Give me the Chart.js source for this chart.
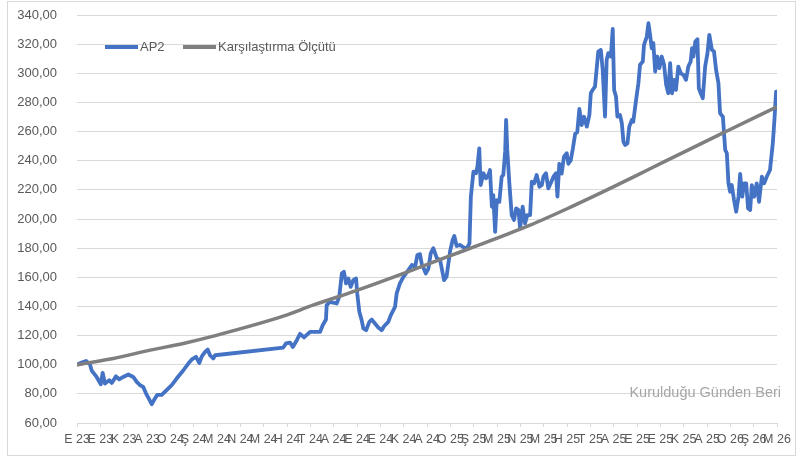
<!DOCTYPE html>
<html>
<head>
<meta charset="utf-8">
<script src="https://cdn.jsdelivr.net/npm/chart.js@4/dist/chart.umd.min.js"></script>
<style>
  body { margin: 0; background: #fff; }
  canvas { display: block; }
</style>
</head>
<body>
<canvas id="grafik" width="803" height="458"></canvas>
<script>
// eksen etiketleri (ay başları)
const monthLabels = ['E 23','E 23','K 23','A 23','O 24','Ş 24','M 24','N 24','M 24','H 24','T 24','A 24',
  'E 24','E 24','K 24','A 24','O 25','Ş 25','M 25','N 25','M 25','H 25','T 25','A 25',
  'E 25','E 25','K 25','A 25','O 26','Ş 26','M 26'];

// AP2 - zaman (ay, başlangıçtan itibaren) ve değer
const apMonths = [0.00,0.20,0.39,0.56,0.63,0.84,1.02,1.10,1.20,1.38,1.49,1.67,1.81,1.98,2.20,2.41,2.56,2.70,2.84,2.96,
  3.10,3.20,3.34,3.44,3.63,3.84,4.06,4.27,4.56,4.77,4.92,5.10,5.24,5.35,5.49,5.60,5.70,5.84,5.92,
  8.84,8.96,9.13,9.25,9.42,9.56,9.73,9.99,10.27,10.42,10.53,10.67,10.70,10.84,11.13,11.24,11.35,11.44,11.53,11.63,11.73,11.84,11.96,
  12.01,12.10,12.20,12.27,12.39,12.53,12.63,12.77,12.91,13.06,13.16,13.34,13.45,13.63,13.70,13.84,13.99,
  14.20,14.35,14.49,14.59,14.70,14.77,14.95,15.06,15.16,15.27,15.42,15.56,15.73,15.84,15.99,
  16.10,16.17,16.27,16.42,16.56,16.71,16.82,16.88,16.99,17.10,17.16,17.24,17.30,17.42,17.53,17.63,17.70,17.78,17.84,17.92,17.99,
  18.10,18.20,18.27,18.35,18.39,18.44,18.53,18.63,18.73,18.82,18.92,18.99,19.10,19.20,19.30,19.42,19.49,19.59,19.70,19.82,19.92,19.99,
  20.10,20.20,20.30,20.42,20.53,20.59,20.67,20.77,20.87,20.99,21.06,21.16,21.25,21.35,21.44,21.53,21.63,21.73,21.85,21.96,
  22.02,22.10,22.20,22.28,22.34,22.45,22.53,22.63,22.70,22.77,22.88,22.96,23.02,23.10,23.16,23.27,23.35,23.42,23.49,23.59,23.67,23.78,23.84,23.96,
  24.06,24.13,24.25,24.30,24.42,24.49,24.56,24.63,24.70,24.78,24.87,24.96,25.06,25.16,25.25,25.34,25.42,25.50,25.59,25.67,25.77,25.88,25.99,
  26.10,26.20,26.30,26.36,26.42,26.50,26.59,26.65,26.73,26.82,26.92,27.02,27.10,27.21,27.30,27.39,27.49,27.56,27.68,27.78,27.85,27.92,27.99,
  28.06,28.16,28.25,28.35,28.42,28.51,28.59,28.68,28.76,28.85,28.92,29.02,29.13,29.23,29.35,29.45,29.56,29.70,29.82,29.89,29.96,29.99];
const apValues = [100,101.5,102.6,100,96,91.6,86.6,94.4,87,89.4,87.5,92,90,91.6,93.3,91.6,88.2,86,84.7,80.2,
  76,72.9,76.8,79.3,79.3,82.6,86,90.5,96.2,100.8,103.6,105.4,101.2,105.8,108.8,110.4,106.5,104.3,106.5,
  111.8,114.6,115.2,112.2,116.8,121.2,118.7,122.5,122.5,122.5,127.1,131,140.9,143.1,142,146.6,162.6,163.8,155.8,159.2,153.4,158.1,159.2,
  148.9,136.3,130.6,124.9,123.7,129.4,131,128.3,125.6,123.7,126.4,129.4,134,139.7,148.9,155.8,160.3,
  164.9,168.4,167.2,175.3,175.9,169.5,162.6,166,176.4,180,173.1,171.9,158,160.5,178,
  185.6,188.3,181.5,182.2,180.6,179.8,183.3,215.3,232.5,231.4,235.9,248.5,223.3,231.4,227.9,230.2,233.6,208.4,216.4,191.2,213,
  211.8,229,230.2,246.2,268,247.4,224.5,202.7,199.3,207.3,206.1,193.5,208.4,197,202.7,202.7,225.6,224.5,230.2,222.1,223.3,229,
  231.4,221,224.5,229,231.4,215.3,237.9,231.1,242.8,245.1,237.9,240.2,248.2,258.5,259.6,275.5,264.5,270.2,263.4,271.4,
  286.3,288.6,290.8,304.6,314.9,316,302.3,270.2,309.2,313.8,311.5,330.5,288.6,284,270.2,271.4,265.7,253,250.8,251.9,263.4,268,266.8,281.7,
  293.2,305.8,308.1,319.5,325.2,334.4,326.4,317.2,320.7,301.2,311.5,303.5,311.5,305.8,292.1,286.3,306.9,286.3,295.5,288.6,304.6,300,298.9,
  295.5,304.6,308.1,317.2,311.5,321.8,323.4,289.7,286.3,282.9,304.6,313.8,326.4,316.1,315,302.3,293.2,272.6,270.2,247.4,245.1,224.5,218.7,
  223.3,213,205,215.3,230.9,215.3,224.5,224.5,207.3,206.1,223.3,215.3,224.5,211.8,229,224.5,229,233.6,251.9,268,287.4,281.7];

// Karşılaştırma Ölçütü
const bmMonths = [0, 1.56, 3.13, 4.56, 5.84, 8.84, 10.14, 12.0, 14.14, 15.86, 17.24, 19.42, 21.13, 22.85, 24.56, 26.27, 27.99, 30];
const bmValues = [100, 104.3, 110, 114.6, 119.6, 133.3, 141, 151, 163.5, 174, 182.2, 195.8, 208, 221, 234.5, 248, 261.4, 277];

const yMin = 60, yMax = 340, yStep = 20;

const toPoints = (xs, ys) => xs.map((x, i) => ({ x: x, y: ys[i] }));

const fontAile = "'Liberation Sans', Arial, sans-serif";

// çerçeve, lejant ve filigran
const ekstraCizim = {
  id: 'ekstraCizim',
  beforeDraw(chart) {
    const c = chart.ctx;
    c.save();
    c.fillStyle = '#ffffff';
    c.fillRect(0, 0, chart.width, chart.height);
    c.strokeStyle = '#d9d9d9';
    c.lineWidth = 1;
    c.strokeRect(7.5, 1.5, 788, 454);
    c.restore();
  },
  afterDraw(chart) {
    const c = chart.ctx;
    c.save();
    c.font = '13px ' + fontAile;
    c.textBaseline = 'middle';
    c.lineWidth = 4;
    // lejant
    const ly = 47;
    c.strokeStyle = '#4472c4';
    c.beginPath(); c.moveTo(105, ly); c.lineTo(138, ly); c.stroke();
    c.fillStyle = '#595959';
    c.fillText('AP2', 140, ly);
    c.strokeStyle = '#7f7f7f';
    c.beginPath(); c.moveTo(183, ly); c.lineTo(216, ly); c.stroke();
    c.fillText('Karşılaştırma Ölçütü', 218, ly);
    // filigran
    c.font = '14.5px ' + fontAile;
    c.fillStyle = '#a6a6a6';
    c.textAlign = 'right';
    c.fillText('Kurulduğu Günden Beri', 781, 393);
    c.restore();
  }
};

new Chart(document.getElementById('grafik'), {
  type: 'line',
  data: {
    datasets: [
      {
        label: 'AP2',
        data: toPoints(apMonths, apValues),
        borderColor: '#4472c4',
        borderWidth: 3.8,
        pointRadius: 0,
        tension: 0,
        borderJoinStyle: 'round',
        order: 2
      },
      {
        label: 'Karşılaştırma Ölçütü',
        data: toPoints(bmMonths, bmValues),
        borderColor: '#7f7f7f',
        borderWidth: 3.5,
        pointRadius: 0,
        cubicInterpolationMode: 'monotone',
        order: 1
      }
    ]
  },
  options: {
    responsive: false,
    animation: false,
    layout: { padding: { left: 0, right: 26, top: 15, bottom: 0 } },
    plugins: {
      legend: { display: false },
      tooltip: { enabled: false }
    },
    scales: {
      x: {
        type: 'linear',
        min: 0,
        max: monthLabels.length - 1,
        afterFit: (s) => { s.height = 35; },
        afterBuildTicks: (s) => { s.ticks = monthLabels.map((_, i) => ({ value: i })); },
        grid: { drawOnChartArea: false, drawTicks: true, tickLength: 4, color: '#d9d9d9' },
        border: { color: '#d9d9d9' },
        ticks: {
          autoSkip: false,
          maxRotation: 0,
          padding: 5,
          color: '#595959',
          font: { family: fontAile, size: 12.5 },
          callback: (v) => monthLabels[v]
        }
      },
      y: {
        min: yMin,
        max: yMax,
        afterFit: (s) => { s.width = 77; },
        grid: { color: '#d9d9d9', drawTicks: true, tickLength: 17, tickColor: 'rgba(0,0,0,0)' },
        border: { display: false },
        ticks: {
          stepSize: yStep,
          padding: 3,
          color: '#595959',
          font: { family: fontAile, size: 13 },
          callback: (v) => v.toFixed(2).replace('.', ',')
        }
      }
    }
  },
  plugins: [ekstraCizim]
});
</script>
</body>
</html>
